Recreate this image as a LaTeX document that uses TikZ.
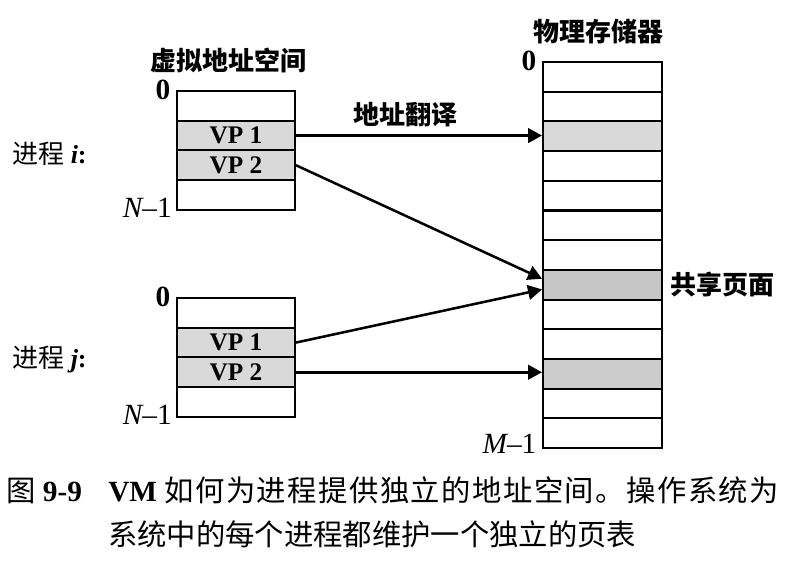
\documentclass[tikz,border=0pt]{standalone}
\usepackage{fontspec}
\setmainfont{Liberation Serif}
\newfontfamily\cjk{Noto Sans CJK SC}
\usetikzlibrary{arrows.meta}

\begin{document}
\begin{tikzpicture}[x=0.75pt,y=-0.75pt,
    cell/.style={draw,line width=1.5pt,inner sep=0pt,minimum width=88.5pt,minimum height=22.3pt},
    pcell/.style={cell,minimum width=89.25pt},
    vp/.style={fill=gray!30,font=\fontsize{19}{19}\selectfont\bfseries},
    arr/.style={line width=1.9pt,-{Triangle[length=10.5pt,width=11pt]}},
    head/.style={font=\cjk\bfseries\fontsize{19.5}{20}\selectfont},
    num/.style={font=\fontsize{22}{22}\selectfont,inner sep=0pt},
    proc/.style={font=\fontsize{19.5}{20}\selectfont,anchor=west,inner sep=0pt},
    capt/.style={font=\fontsize{22}{24}\selectfont,anchor=base west,inner sep=0pt}]
   \useasboundingbox (0,0) rectangle (792,575);
   % process i
   \begin{scope}
    \node[cell] (vi0) at (236,105.85) {};
    \node[cell,vp] (vi1) at (236,135.55) {VP 1};
    \node[cell,vp] (vi2) at (236,165.25) {VP 2};
    \node[cell] (vi3) at (236,194.95) {};
    \node[head] (vtitle) at (228,60) {虚拟地址空间};
    \node[num,anchor=east] (zi) at ([xshift=-4pt]vi0.north west) {\bfseries 0};
    \node[num,anchor=east] (ni) at ([xshift=-3pt,yshift=2pt]vi3.south west) {\itshape N\upshape\textendash1};
    \node[proc] (pi) at (12,154) {{\cjk 进程} \bfseries\itshape i\upshape:};
   \end{scope}
   % process j
   \begin{scope}
    \node[cell] (vj0) at (236,312.85) {};
    \node[cell,vp] (vj1) at (236,342.55) {VP 1};
    \node[cell,vp] (vj2) at (236,372.25) {VP 2};
    \node[cell] (vj3) at (236,401.95) {};
    \node[num,anchor=east] (zj) at ([xshift=-4pt]vj0.north west) {\bfseries 0};
    \node[num,anchor=east] (nj) at ([xshift=-3pt,yshift=2pt]vj3.south west) {\itshape N\upshape\textendash1};
    \node[proc] (pj) at (12,360) {{\cjk 进程} \bfseries\itshape j\upshape:};
   \end{scope}
   % physical memory
   \begin{scope}
    \node[pcell] (p0) at (602.5,76.85) {};
    \node[pcell] (p1) at (602.5,106.55) {};
    \node[pcell,fill=gray!30] (p2) at (602.5,136.25) {};
    \node[pcell] (p3) at (602.5,165.95) {};
    \node[pcell] (p4) at (602.5,195.65) {};
    \node[pcell] (p5) at (602.5,225.35) {};
    \node[pcell] (p6) at (602.5,255.05) {};
    \node[pcell,fill=gray!45] (p7) at (602.5,284.75) {};
    \node[pcell] (p8) at (602.5,314.45) {};
    \node[pcell] (p9) at (602.5,344.15) {};
    \node[pcell,fill=gray!40] (p10) at (602.5,373.85) {};
    \node[pcell] (p11) at (602.5,403.55) {};
    \node[pcell] (p12) at (602.5,433.25) {};
    \node[head] (ptitle) at (598,32) {物理存储器};
    \node[num,anchor=east] (zp) at ([xshift=-4pt]p0.north west) {\bfseries 0};
    \node[num,anchor=east] (mp) at ([xshift=-4pt,yshift=4pt]p12.south west) {\itshape M\upshape\textendash1};
    \node[head,anchor=west] (shared) at ([xshift=2pt]p7.east) {共享页面};
   \end{scope}
   % page mappings
   \draw[arr] (vi1.east) -- (vi1.east -| p2.west);
   \draw[arr] (vi2.east) -- ([yshift=4.5pt]p7.west);
   \draw[arr] (vj1.east) -- ([yshift=-3.5pt]p7.west);
   \draw[arr] (vj2.east) -- (vj2.east -| p10.west);
   \node[head] (xlate) at (405,115) {地址翻译};
   % caption
   \node[capt] (cap0) at (6,501) {{\cjk 图} \bfseries 9-9};
   \node[capt] (cap1) at (108,501) {\textbf{VM} {\cjk\addfontfeatures{LetterSpace=5}如何为进程提供独立的地址空间。操作系统为}};
   \node[capt] (cap2) at (108,545) {\cjk 系统中的每个进程都维护一个独立的页表};
\end{tikzpicture}
\end{document}
